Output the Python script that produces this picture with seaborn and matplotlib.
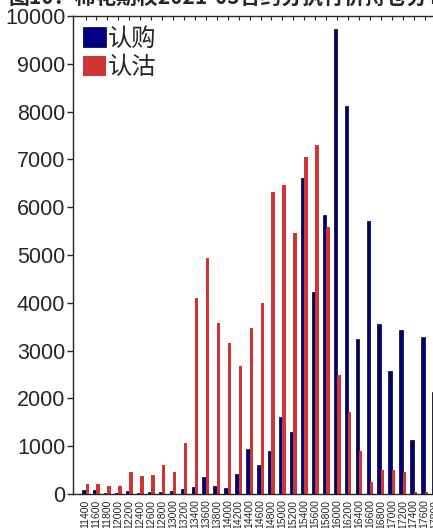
import matplotlib
matplotlib.use("Agg")
import matplotlib.pyplot as plt
import numpy as np
import pandas as pd
import seaborn as sns

# strike prices and open interest
strikes = [11400, 11600, 11800, 12000, 12200, 12400, 12600, 12800, 13000, 13200,
           13400, 13600, 13800, 14000, 14200, 14400, 14600, 14800, 15000, 15200,
           15400, 15600, 15800, 16000, 16200, 16400, 16600, 16800, 17000, 17200,
           17400, 17600, 17800]
calls = [80, 80, 30, 20, 60, 30, 50, 50, 70, 100,
         150, 365, 160, 135, 410, 950, 600, 895, 1610, 1295,
         6610, 4220, 5840, 9730, 8120, 3240, 5720, 3550, 2570, 3440,
         1120, 3290, 2130]
puts = [210, 210, 160, 160, 470, 385, 390, 615, 470, 1060,
        4110, 4940, 3570, 3160, 2670, 3470, 3990, 6310, 6465, 5460,
        7060, 7295, 5590, 2500, 1720, 895, 260, 500, 500, 450,
        50, 50, 0]
series_names = ["认购", "认沽"]
title = "图10：棉花期权2021-05合约分执行价持仓分布"

df = pd.DataFrame({
    "strike": [str(s) for s in strikes] * 2,
    "oi": calls + puts,
    "type": [series_names[0]] * len(strikes) + [series_names[1]] * len(strikes),
})

sns.set_style("ticks")
plt.rcParams["font.family"] = ["Liberation Sans", "Noto Sans CJK SC"]

W, H = 433, 528
fig = plt.figure(figsize=(W / 100, H / 100), dpi=100)
# axes spans past the right edge, the reference is a crop
left, top, bottom = 73, 16, 494
step = 10.94
pad = 12.5 / step
n = len(strikes)
ax_w = (n - 1 + 2 * pad) * step
ax = fig.add_axes([left / W, 1 - bottom / H, ax_w / W, (bottom - top) / H])

palette = {series_names[0]: "#000080", series_names[1]: "#d03535"}
sns.barplot(data=df, x="strike", y="oi", hue="type", palette=palette,
            width=0.62, ax=ax, saturation=1, linewidth=0)

for bar in ax.patches:
    if bar.get_facecolor()[2] > 0.4 and bar.get_facecolor()[0] < 0.1:
        bar.set_edgecolor("black")
        bar.set_linewidth(0.5)

ax.set_xlim(-pad, n - 1 + pad)
ax.set_ylim(0, 10000)
ax.set_yticks(np.arange(0, 10001, 1000))
ax.set_xlabel("")
ax.set_ylabel("")
ax.tick_params(axis="y", labelsize=15.5, direction="out", length=4, width=1, pad=1.5)
ax.tick_params(axis="x", top=True, bottom=False, direction="in", length=3,
               width=0.8, labelsize=7.5, labelrotation=90, pad=4)
for s in ax.spines.values():
    s.set_linewidth(1)

leg = ax.legend(loc="upper left", frameon=False, fontsize=17.5,
                handlelength=0.95, handleheight=0.9, handletextpad=0.1,
                borderaxespad=0.15, borderpad=0.25, labelspacing=0.1)
for t in leg.get_texts():
    t.set_family(["Noto Sans CJK SC", "DejaVu Sans"])

fig.text(8 / W, 1 - 4 / H, title, fontsize=15, fontweight="bold",
         family=["Noto Sans CJK SC", "DejaVu Sans"], va="baseline", ha="left")

fig.savefig("out.png", dpi=100)
